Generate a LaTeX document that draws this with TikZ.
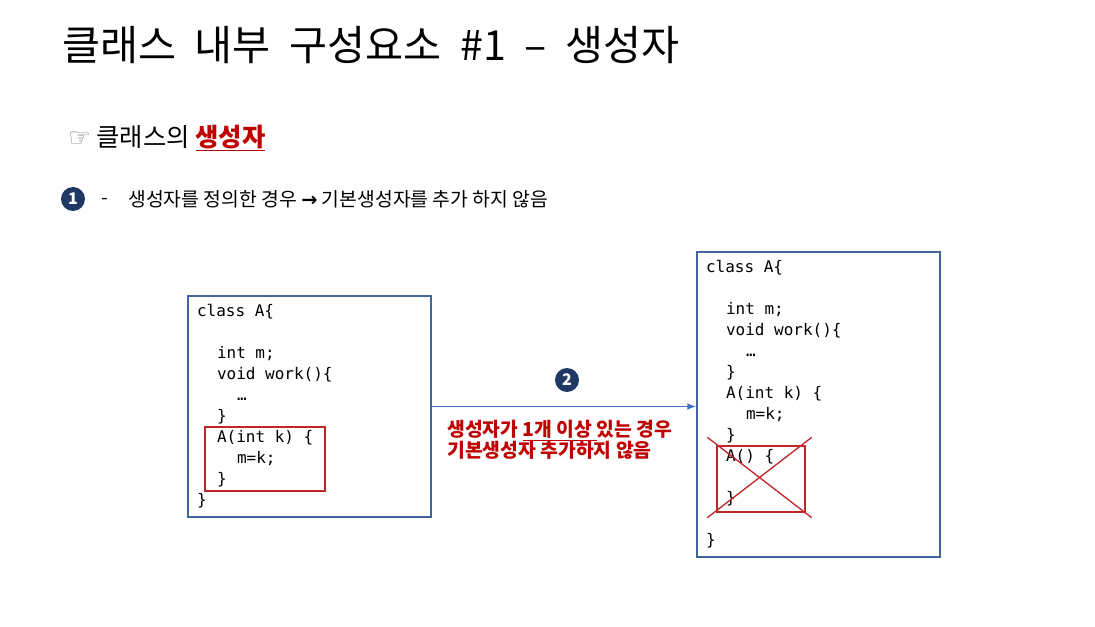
\documentclass[tikz,border=0pt]{standalone}
\usepackage{fontspec}
\setmainfont{Noto Sans CJK KR}
\setmonofont{DejaVu Sans Mono}
\newfontfamily\symfont{DejaVu Sans}
\usepackage{tikz}
\usetikzlibrary{positioning, arrows.meta, calc}

\definecolor{boxblue}{RGB}{65,101,154}
\definecolor{arrowblue}{RGB}{68,114,196}
\definecolor{navy}{RGB}{31,56,100}
\definecolor{ctorred}{RGB}{192,0,0}
\definecolor{framered}{RGB}{192,40,40}
\newcommand{\ind}{\hspace*{15pt}}
\newcommand{\widesp}[1]{\spaceskip=#1\relax}

\begin{document}
\begin{tikzpicture}[x=0.75pt, y=-0.75pt, >=Latex,
  codebox/.style={draw=boxblue, line width=1.2pt, minimum width=182.25pt, text width=168.75pt,
    inner xsep=6.75pt, align=left, font=\fontsize{12pt}{15.75pt}\selectfont\ttfamily},
  redframe/.style={draw=framered, line width=1pt},
  badge/.style={circle, fill=navy, text=white, minimum size=18pt, inner sep=0pt, font=\bfseries\fontsize{12pt}{14pt}\selectfont}]
  \useasboundingbox (0,0) rectangle (1095,627);

  % title and headings
  \node[anchor=west, inner sep=0pt, font=\fontsize{31pt}{36pt}\selectfont] (title) at (62,45)
    {\widesp{0.45em}클래스 내부 구성요소 \#1 – 생성자};
  \node[anchor=west, inner sep=0pt, font=\fontsize{19pt}{22pt}\selectfont] (sub) at (68,138)
    {{\symfont\color{gray}☞} 클래스의 {\bfseries\color{ctorred}\underline{생성자}}};
  \node[badge] (one) at (73,199) {1};
  \node[anchor=west, inner sep=0pt, font=\fontsize{14.5pt}{17pt}\selectfont] (dash) at (101,201) {-};
  \node[anchor=west, inner sep=0pt, font=\fontsize{14.5pt}{17pt}\selectfont] (rule) at (128,199)
    {생성자를 정의한 경우 {\symfont\bfseries →} 기본생성자를 추가 하지 않음};

  % code boxes
  \node[codebox, minimum height=165.75pt] (left) at (309.5,406.5) {\widesp{0.6em}class A\{\\
    \mbox{}\\
    \ind int m;\\
    \ind void work()\{\\
    \ind\ind …\\
    \ind \}\\
    \ind A(int k) \{\\
    \ind\ind m=k;\\
    \ind \}\\
    \}};
  \node[codebox, minimum height=228.75pt] (right) at (818.5,404.5) {\widesp{0.6em}class A\{\\
    \mbox{}\\
    \ind int m;\\
    \ind void work()\{\\
    \ind\ind …\\
    \ind \}\\
    \ind A(int k) \{\\
    \ind\ind m=k;\\
    \ind \}\\
    \ind A() \{\\
    \mbox{}\\
    \ind \}\\
    \mbox{}\\
    \}};

  % marked constructors
  \draw[redframe] (205,427) rectangle (325,491);
  \node[redframe, draw, inner sep=0pt, minimum width=66pt, minimum height=49.5pt] (defbox) at (761,479) {};
  \draw[redframe] ($(defbox.north west)+(-9,-8)$) -- ($(defbox.south east)+(6,5)$);
  \draw[redframe] ($(defbox.south west)+(-9,5)$) -- ($(defbox.north east)+(6,-8)$);

  % transition
  \draw[->, arrowblue, line width=0.8pt] (left.east) -- (left.east -| right.west);
  \node[badge] (two) at (567,380) {2};
  \node[anchor=west, inner sep=0pt, align=left, text=ctorred,
    font=\bfseries\fontsize{14.5pt}{15.75pt}\selectfont] (note) at (447,439.5)
    {생성자가 \underline{1개 이상\ }있는 경우\\기본생성자 추가하지 않음};
\end{tikzpicture}
\end{document}
